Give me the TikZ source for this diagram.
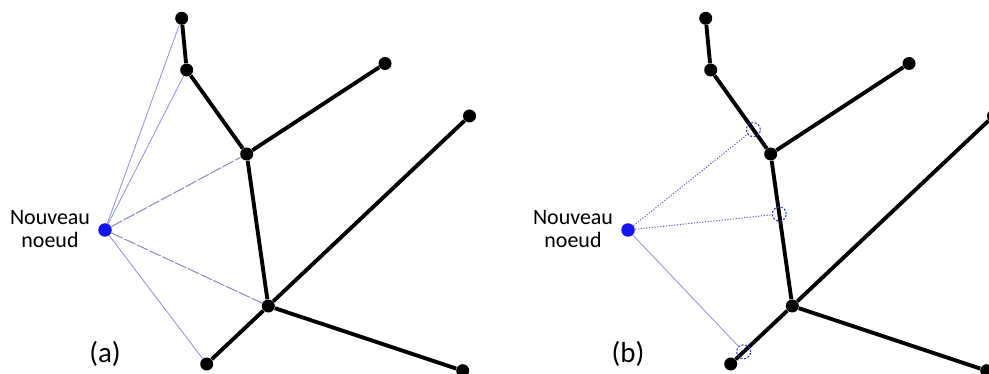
\documentclass[tikz,border=0pt]{standalone}
\usepackage{fontspec}
\setmainfont{Carlito}
\usetikzlibrary{calc}
\definecolor{newblue}{RGB}{20,20,240}
\definecolor{thinblue}{RGB}{150,150,220}
\definecolor{dashblue}{RGB}{140,140,195}
\definecolor{dotblue}{RGB}{100,100,205}
\definecolor{ringblue}{RGB}{50,50,190}
\tikzset{
  dot/.style={circle,fill=black,inner sep=0pt,minimum size=13*0.02cm},
  newdot/.style={circle,fill=newblue,inner sep=0pt,minimum size=13.5*0.02cm},
  ring/.style={circle,draw=ringblue,dash pattern=on 1.2pt off 0.9pt,line width=0.6pt,inner sep=0pt,minimum size=14*0.02cm},
  tree/.style={line width=2.2pt,black},
  thinlink/.style={thinblue,line width=0.5pt},
  dashlink/.style={dashblue,line width=0.6pt,dash pattern=on 7pt off 1pt},
  dotlink/.style={dotblue,line width=0.6pt,dash pattern=on 0.7pt off 0.9pt},
  lbl/.style={font=\fontsize{12.5}{13.5}\selectfont,align=center,inner sep=0pt},
  panel/.style={font=\fontsize{16.5}{18}\selectfont,inner sep=0pt}
}
\begin{document}
\begin{tikzpicture}[x=0.02cm,y=-0.02cm]
\useasboundingbox (0,0) rectangle (989,374);
\clip (0,0) rectangle (989,374);
% ---------- (a) ----------
\node[dot] (A) at (181.7,18.3) {};
\node[dot] (B) at (186.7,70) {};
\node[dot] (C) at (246.7,154) {};
\node[dot] (D) at (385,63.5) {};
\node[dot] (E) at (469.5,116) {};
\node[dot] (F) at (268.3,306) {};
\node[dot] (G) at (206.7,364) {};
\node[dot] (H) at (462.7,370.7) {};
\node[newdot] (N) at (105,230) {};
\draw[tree] (A) -- (B) -- (C) -- (D);
\draw[tree] (C) -- (F) -- (E);
\draw[tree] (G) -- (F) -- (H);
\draw[thinlink] (N) -- (A);
\draw[thinlink] (N) -- (B);
\draw[dashlink] (N) -- (C);
\draw[dashlink] (N) -- (F);
\draw[thinlink] (N) -- (G);
\node[lbl] (La) at (50,229) {Nouveau\\noeud};
\node[panel] (Pa) at (105,354) {(a)};
% ---------- (b) ----------
\node[dot] (A2) at (705.7,18.3) {};
\node[dot] (B2) at (710.7,70) {};
\node[dot] (C2) at (770.7,154) {};
\node[dot] (D2) at (909,63.5) {};
\node[dot] (E2) at (993.5,116) {};
\node[dot] (F2) at (792.3,306) {};
\node[dot] (G2) at (730.7,364) {};
\node[dot] (H2) at (986.7,370.7) {};
\node[newdot] (N2) at (628,230) {};
\draw[tree] (A2) -- (B2) -- (C2) -- (D2);
\draw[tree] (C2) -- (F2) -- (E2);
\draw[tree] (G2) -- (F2) -- (H2);
\node[ring] (R1) at ($(B2)!0.71!(C2)$) {};
\node[ring] (R2) at ($(C2)!0.395!(F2)$) {};
\node[ring] (R3) at ($(F2)!0.79!(G2)$) {};
\draw[dotlink] (N2) -- (R1);
\draw[dotlink] (N2) -- (R2);
\draw[thinlink] (N2) -- (R3);
\node[lbl] (Lb) at (573,229) {Nouveau\\noeud};
\node[panel] (Pb) at (628,354) {(b)};
\end{tikzpicture}
\end{document}
